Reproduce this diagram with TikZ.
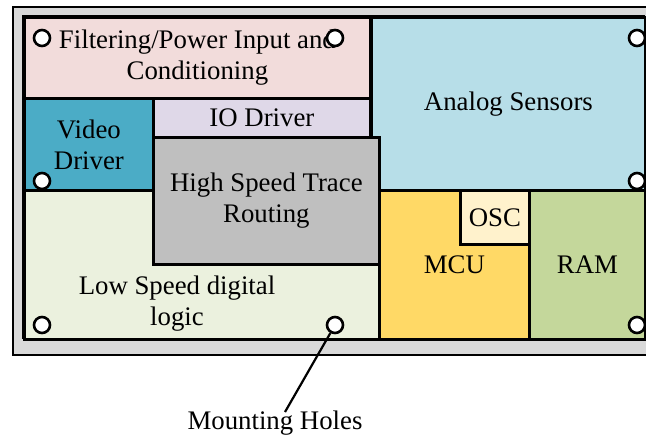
\documentclass[tikz,border=0pt]{standalone}
\usepackage{fontspec}
\setmainfont{Liberation Serif}
\definecolor{framegray}{RGB}{217,217,217}
\definecolor{filterpink}{RGB}{242,220,219}
\definecolor{videoteal}{RGB}{75,172,198}
\definecolor{iolilac}{RGB}{223,216,232}
\definecolor{tracegray}{RGB}{191,191,191}
\definecolor{lowgreen}{RGB}{235,241,222}
\definecolor{analogblue}{RGB}{183,222,232}
\definecolor{mcuyellow}{RGB}{255,217,102}
\definecolor{osccream}{RGB}{255,242,204}
\definecolor{ramgreen}{RGB}{196,215,155}

\begin{document}
\begin{tikzpicture}[x=0.5pt,y=-0.5pt,
		block/.style={draw=black, line width=1.4pt, anchor=north west, inner sep=0pt, align=center, font=\fontsize{13.4}{15.5}\selectfont},
		hole/.style={circle, draw=black, fill=white, line width=1.3pt, minimum size=8pt, inner sep=0pt},
		lbl/.style={align=center, font=\fontsize{13.4}{15.5}\selectfont}]
				\useasboundingbox (0,0) rectangle (646,439);
				\clip (0,0) rectangle (646,439);
				% board
				\filldraw[fill=framegray, draw=black, line width=1.2pt] (13,7) rectangle (656,355);
				\draw[fill=white, line width=1.4pt] (23,16) rectangle (644,338);
				
				% blocks
				\node[block, fill=analogblue, minimum width=137pt, minimum height=86.5pt] (analog) at (370,16) {Analog Sensors};
				\node[block, fill=filterpink, minimum width=173pt, minimum height=40.5pt] (filter) at (23,16) {Filtering/Power Input and\\Conditioning};
				\node[block, fill=videoteal, minimum width=64.5pt, minimum height=46pt] (video) at (23,97) {Video\\Driver};
				\node[block, fill=iolilac, minimum width=108.5pt, minimum height=19.5pt] (io) at (152,97) {IO Driver};
				\node[block, fill=lowgreen, minimum width=177.5pt, minimum height=74.5pt] (low) at (23,189) {};
				\node[lbl] (lowtxt) at (177,304) {Low Speed digital\\logic};
				\node[block, fill=mcuyellow, minimum width=75pt, minimum height=74.5pt] (mcu) at (378,189) {MCU};
				\node[block, fill=osccream, minimum width=34.5pt, minimum height=27pt] (osc) at (459,189) {OSC};
				\node[block, fill=ramgreen, minimum width=58pt, minimum height=74.5pt] (ram) at (528,189) {RAM};
				\node[block, fill=tracegray, minimum width=113pt, minimum height=63.5pt] (trace) at (152,136) {High Speed Trace\\Routing};
				
				% mounting holes
				\node[hole] (h1) at (42,38) {};
				\node[hole] (h2) at (335,38) {};
				\node[hole] (h3) at (637,38) {};
				\node[hole] (h4) at (42,181) {};
				\node[hole] (h5) at (637,181) {};
				\node[hole] (h6) at (42,325) {};
				\node[hole] (h7) at (335,325) {};
				\node[hole] (h8) at (637,325) {};
				
				\node[lbl] (mounting) at (275,423) {Mounting Holes};
				\coordinate (mhend) at (285,412);
				\draw[line width=1.1pt] (h7.240) -- (mhend);
\end{tikzpicture}
\end{document}
